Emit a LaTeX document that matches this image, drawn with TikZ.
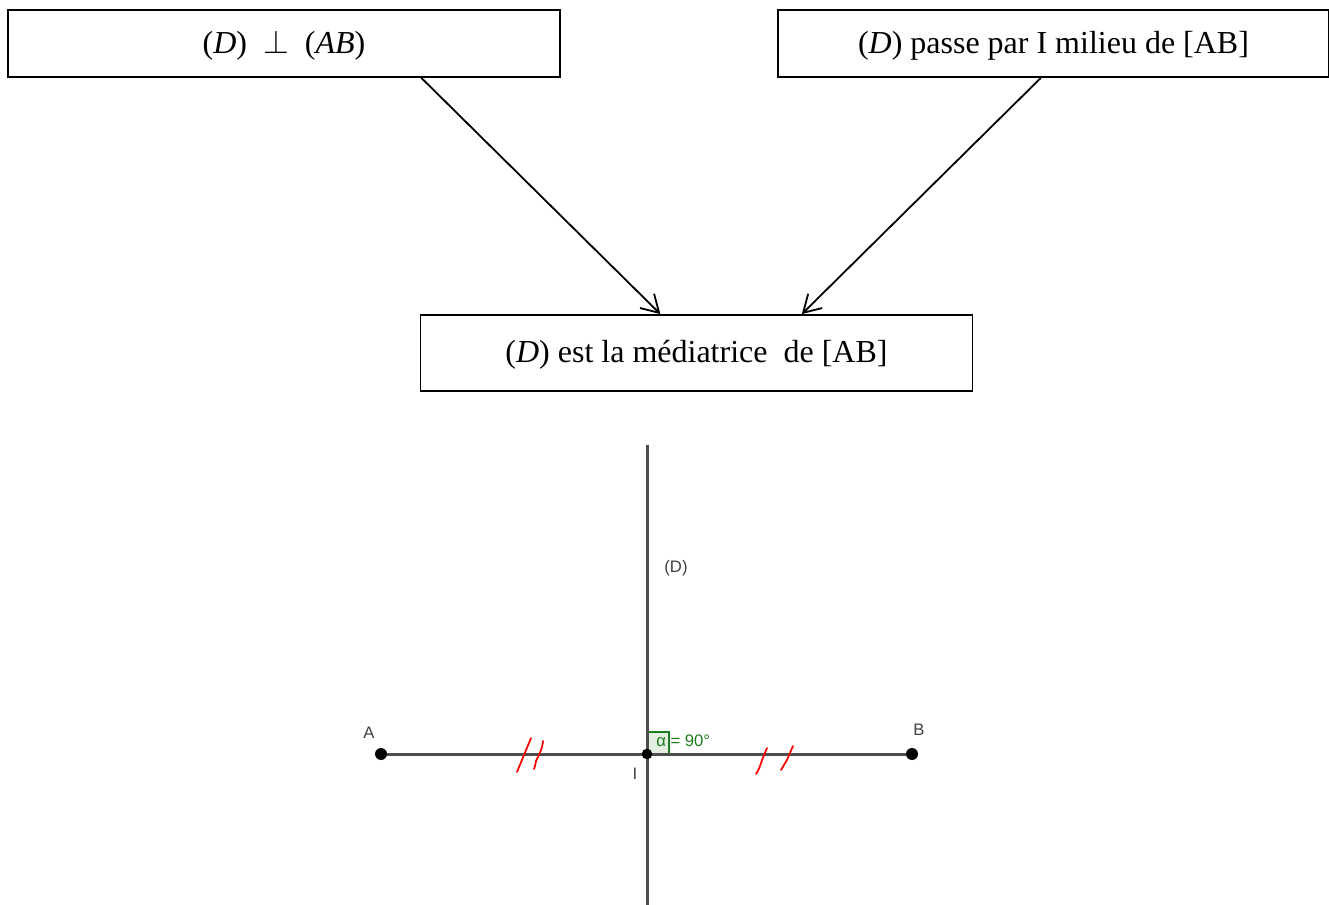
\documentclass[tikz,border=0pt]{standalone}
\usepackage{fontspec}
\setmainfont{Liberation Serif}
\setsansfont{Liberation Sans}
\usetikzlibrary{calc,arrows.meta}
\definecolor{geo}{RGB}{77,77,77}
\definecolor{ang}{RGB}{30,125,30}
\tikzset{
  x=0.75pt,y=-0.75pt,
  txtbox/.style={draw=black,line width=1.35pt,minimum width=0.75pt*\boxw,minimum height=0.75pt*\boxh,inner sep=0pt,font=\fontsize{24}{26}\selectfont},
  conn/.style={draw=black,line width=1.35pt,-{Straight Barb[length=12.75pt,width=15pt,line width=1.35pt]}},
  geoline/.style={draw=geo,line width=2.25pt},
  pt/.style={circle,fill=black,inner sep=0pt,minimum size=9pt},
  lab/.style={font=\sffamily\fontsize{12.5}{14}\selectfont,text=black!75,inner sep=0pt},
  tick/.style={draw=red,line width=1.3pt,line cap=round,line join=round}
}
\newcommand{\boxw}{552}
\newcommand{\boxh}{67}
\newcommand{\vr}[1]{(\textit{#1})}
\newcommand{\nudge}[1]{\raisebox{-7.2pt}[0pt][0pt]{#1}}
\begin{document}
\begin{tikzpicture}
\useasboundingbox (0,0) rectangle (1329,905);
\node[txtbox] (p1) at (284,43.5) {\nudge{\vr{D}\ \ $\perp$\ \ \vr{AB}}};
\node[txtbox,minimum width=0.75pt*551] (p2) at (1053.5,43.5) {\nudge{\vr{D} passe par I milieu de [AB]}};
\node[txtbox,minimum height=0.75pt*76] (c) at (696.5,353) {\nudge{\vr{D} est la médiatrice\ \ de [AB]}};
\coordinate (e1) at ($(p1.south west)!0.748!(p1.south east)$);
\coordinate (e2) at ($(p2.south west)!0.4771!(p2.south east)$);
\coordinate (t1) at ($(c.north west)!0.4348!(c.north east)$);
\coordinate (t2) at ($(c.north west)!0.6902!(c.north east)$);
\draw[conn] (e1) -- (t1);
\draw[conn] (e2) -- (t2);
% geometric figure
\coordinate (top) at (647,445);
\coordinate (bot) at (647,905);
\node[pt] (A) at (381,754) {};
\node[pt] (B) at (912,754) {};
\draw[draw=ang,line width=1.5pt,fill=ang!12] (647,732) rectangle (669,754);
\draw[geoline] (top) -- (bot);
\draw[geoline] (A) -- (B);
\node[pt,minimum size=8pt] (I) at (647,754) {};
\node[lab] at (676,568) {(D)};
\node[lab] at (369,733) {A};
\node[lab] at (919,730) {B};
\node[lab] at (635,774) {I};
\node[lab,text=ang,anchor=west] at (656,740.5) {α = 90°};
\draw[tick] (531,738) -- (524,755) -- (517,772);
\draw[tick] (543,741) .. controls (542,750) and (540,752) .. (538,757) .. controls (535,761) and (536,765) .. (534,769);
\draw[tick] (767,748) -- (762,760) .. controls (760,766) and (759,770) .. (756,774);
\draw[tick] (793,746) -- (787,760) -- (781,770);
\end{tikzpicture}
\end{document}
